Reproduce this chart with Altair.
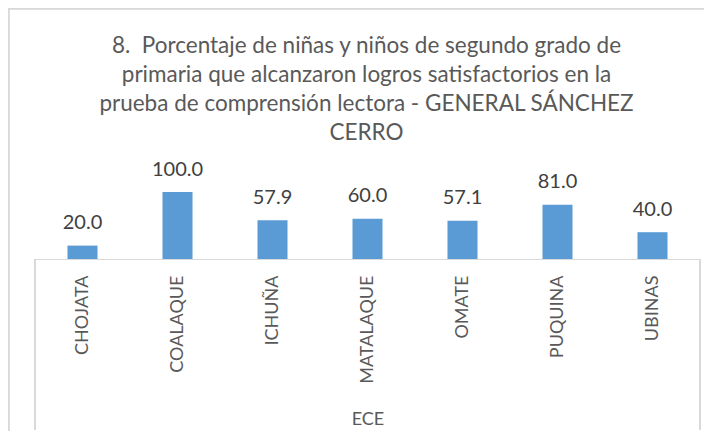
import altair as alt
import pandas as pd

categories = ["CHOJATA", "COALAQUE", "ICHUÑA", "MATALAQUE", "OMATE", "PUQUINA", "UBINAS"]
values = [20.0, 100.0, 57.9, 60.0, 57.1, 81.0, 40.0]
title_lines = [
    "8.\u00a0 Porcentaje de niñas y niños de segundo grado de",
    "primaria que alcanzaron logros satisfactorios en la",
    "prueba de comprensión lectora - GENERAL SÁNCHEZ",
    "CERRO",
]
axis_title = "ECE"

df = pd.DataFrame({"cat": categories, "val": values})

FONT = "Lato"
W, H = 665, 67

x = alt.X("cat:N", sort=categories,
          scale=alt.Scale(paddingInner=0.684, paddingOuter=0.342),
          axis=alt.Axis(title=axis_title, labelAngle=-90, labelPadding=16,
                        labelFontSize=18, labelColor="#595959", labelFont=FONT,
                        ticks=False, domainColor="#d9d9d9", domainWidth=1,
                        titleFontSize=18, titleColor="#595959", titleFont=FONT,
                        titleFontWeight="normal", titleY=160, titleX=W / 2,
                        titleBaseline="middle", titleAlign="center"))
y = alt.Y("val:Q", scale=alt.Scale(domain=[0, 100], nice=False), axis=None)

bars = alt.Chart(df).mark_bar(color="#5B9BD5").encode(x=x, y=y)
labels = alt.Chart(df).mark_text(dy=-16.5, baseline="alphabetic", fontSize=20,
                                 font=FONT, color="#404040").encode(
    x=alt.X("cat:N", sort=categories), y=y, text=alt.Text("val:Q", format=".1f"))

title_df = pd.DataFrame({"t": [title_lines]})
title = alt.Chart(title_df).mark_text(
    baseline="alphabetic", align="center", fontSize=22.5, font=FONT,
    color="#595959", lineHeight=29).encode(
    x=alt.value(W / 2 - 1), y=alt.value(-139), text="t")

frame_color = "#d9d9d9"
left_v = alt.Chart(df).mark_rule(color=frame_color, strokeWidth=1).encode(
    x=alt.value(0), y=alt.value(H), y2=alt.value(H + 171))
right_v = alt.Chart(df).mark_rule(color=frame_color, strokeWidth=1).encode(
    x=alt.value(W), y=alt.value(H), y2=alt.value(H + 171))
outer_l = alt.Chart(df).mark_rule(color=frame_color, strokeWidth=1.5).encode(
    x=alt.value(-26.5), y=alt.value(-183.5), y2=alt.value(240))
outer_t = alt.Chart(df).mark_rule(color=frame_color, strokeWidth=1.5).encode(
    x=alt.value(-26.5), x2=alt.value(670), y=alt.value(-183.5))

chart = alt.layer(bars, labels, title, left_v, right_v, outer_l, outer_t).properties(
    width=W, height=H,
    autosize=alt.AutoSizeParams(type="none"),
    padding={"left": 27, "top": 184, "right": 4, "bottom": 172},
).configure(background="white", view=alt.ViewConfig(stroke=None))

chart.save("out.html", embed_options={"renderer": "svg", "actions": False})
